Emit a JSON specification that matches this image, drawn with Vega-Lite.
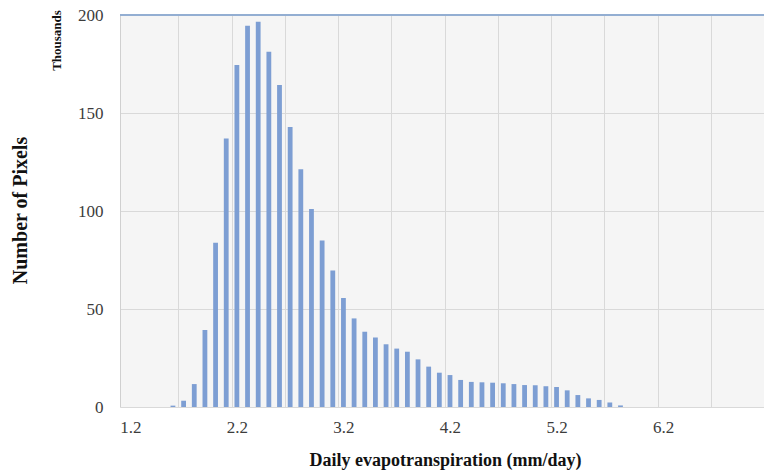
{
  "$schema": "https://vega.github.io/schema/vega-lite/v6.json",
  "width": 644,
  "height": 392,
  "autosize": {"type": "none"},
  "padding": {"left": 120, "top": 15, "right": 0, "bottom": 69},
  "background": "white",
  "config": {"view": {"fill": "#f5f5f5", "stroke": null}, "font": "Liberation Serif"},
  "data": {"values": [
    {"et": 1.6, "pixels": 0.7},
    {"et": 1.7, "pixels": 3.2},
    {"et": 1.8, "pixels": 11.7},
    {"et": 1.9, "pixels": 39.3},
    {"et": 2.0, "pixels": 83.8},
    {"et": 2.1, "pixels": 137.0},
    {"et": 2.2, "pixels": 174.5},
    {"et": 2.3, "pixels": 194.5},
    {"et": 2.4, "pixels": 196.6},
    {"et": 2.5, "pixels": 181.3},
    {"et": 2.6, "pixels": 164.3},
    {"et": 2.7, "pixels": 142.9},
    {"et": 2.8, "pixels": 121.3},
    {"et": 2.9, "pixels": 101.0},
    {"et": 3.0, "pixels": 84.9},
    {"et": 3.1, "pixels": 69.7},
    {"et": 3.2, "pixels": 55.6},
    {"et": 3.3, "pixels": 45.2},
    {"et": 3.4, "pixels": 38.4},
    {"et": 3.5, "pixels": 35.5},
    {"et": 3.6, "pixels": 32.0},
    {"et": 3.7, "pixels": 29.8},
    {"et": 3.8, "pixels": 28.2},
    {"et": 3.9, "pixels": 24.3},
    {"et": 4.0, "pixels": 20.6},
    {"et": 4.1, "pixels": 17.5},
    {"et": 4.2, "pixels": 16.3},
    {"et": 4.3, "pixels": 13.8},
    {"et": 4.4, "pixels": 12.8},
    {"et": 4.5, "pixels": 12.6},
    {"et": 4.6, "pixels": 12.4},
    {"et": 4.7, "pixels": 12.1},
    {"et": 4.8, "pixels": 11.7},
    {"et": 4.9, "pixels": 11.2},
    {"et": 5.0, "pixels": 11.1},
    {"et": 5.1, "pixels": 10.6},
    {"et": 5.2, "pixels": 10.2},
    {"et": 5.3, "pixels": 8.5},
    {"et": 5.4, "pixels": 6.1},
    {"et": 5.5, "pixels": 4.4},
    {"et": 5.6, "pixels": 3.6},
    {"et": 5.7, "pixels": 2.3},
    {"et": 5.8, "pixels": 0.8}
  ]},
  "layer": [
    {
      "mark": {"type": "bar", "size": 4.8, "color": "#7d9ed3"},
      "encoding": {
        "x": {
          "field": "et", "type": "quantitative",
          "scale": {"domain": [1.15, 7.1], "nice": false, "zero": false},
          "axis": {
            "values": [1.2, 2.2, 3.2, 4.2, 5.2, 6.2], "format": ".1f",
            "grid": false, "ticks": false, "domain": false,
            "labelFont": "Liberation Serif", "labelFontSize": 17, "labelColor": "#3c3c3c", "labelPadding": 12,
            "title": "Daily evapotranspiration (mm/day)",
            "titleFont": "Liberation Serif", "titleFontSize": 18, "titleFontWeight": "bold", "titleColor": "#111111",
            "titleX": 325, "titleY": 58, "titleBaseline": "alphabetic", "titleAlign": "center"
          }
        },
        "y": {
          "field": "pixels", "type": "quantitative",
          "scale": {"domain": [0, 200], "nice": false},
          "axis": {
            "values": [0, 50, 100, 150, 200],
            "grid": true, "gridColor": "#d9d9d9", "ticks": false,
            "domain": true, "domainColor": "#d0d0d0",
            "labelFont": "Liberation Serif", "labelFontSize": 17, "labelColor": "#3c3c3c", "labelPadding": 17,
            "title": "Number of Pixels",
            "titleFont": "Liberation Serif", "titleFontSize": 20, "titleFontWeight": "bold", "titleColor": "#111111",
            "titleX": -100, "titleY": 195, "titleAngle": -90, "titleBaseline": "middle", "titleAlign": "center"
          }
        }
      }
    },
    {
      "mark": {"type": "point", "opacity": 0},
      "encoding": {
        "x": {
          "field": "et", "type": "quantitative",
          "axis": {
            "orient": "top",
            "values": [1.65, 2.15, 2.65, 3.15, 3.65, 4.15, 4.65, 5.15, 5.65, 6.15, 6.65],
            "grid": true, "gridColor": "#d9d9d9", "labels": false, "ticks": false, "domain": false, "title": null
          }
        },
        "y": {
          "field": "pixels", "type": "quantitative",
          "axis": {
            "orient": "right",
            "grid": false, "labels": false, "ticks": false, "domain": false,
            "title": "Thousands",
            "titleFont": "Liberation Serif", "titleFontSize": 13, "titleFontWeight": "bold", "titleColor": "#111111",
            "titleX": -708, "titleY": 25, "titleAngle": -90, "titleBaseline": "middle", "titleAlign": "center"
          }
        }
      }
    },
    {
      "mark": {"type": "rule", "color": "#93aed2", "strokeWidth": 1.5},
      "encoding": {"y": {"datum": 200, "axis": null}}
    }
  ],
  "resolve": {"axis": {"x": "independent", "y": "independent"}}
}
